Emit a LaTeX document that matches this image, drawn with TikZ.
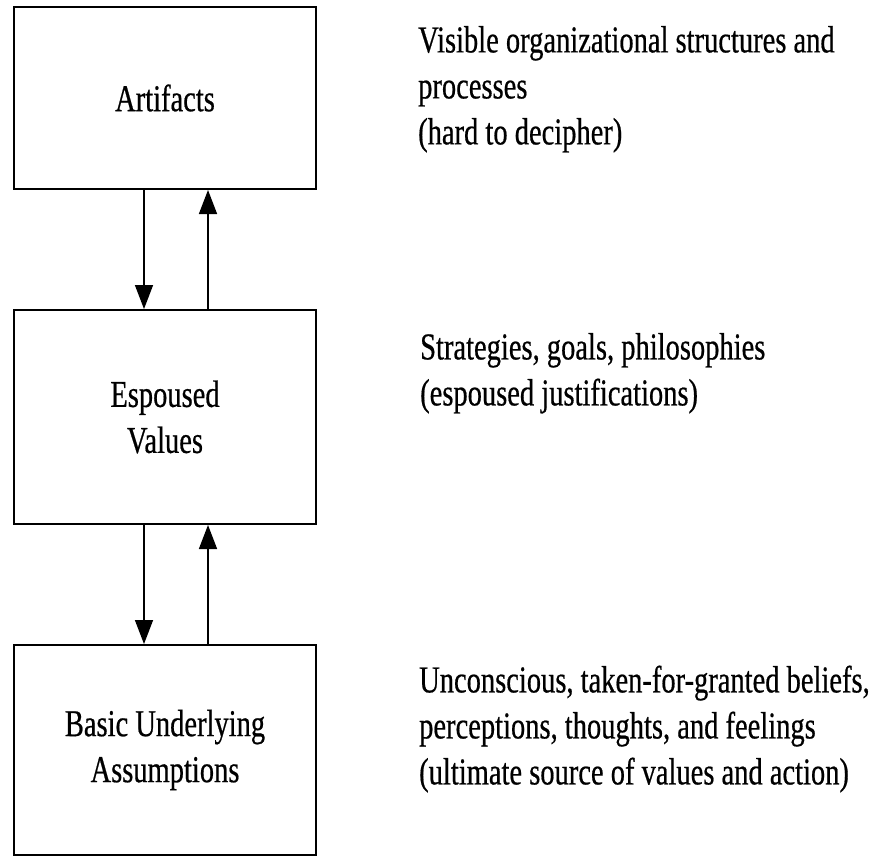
\documentclass[tikz,border=0pt]{standalone}
\usepackage{fontspec}
\setmainfont{Liberation Serif}
\newfontfamily\condserif[FakeStretch=0.75,FakeBold=0.5]{Liberation Serif}
\usetikzlibrary{arrows.meta}
\tikzset{
  layerbox/.style={draw=black, line width=2pt, rectangle, inner sep=0pt,
    minimum width=302pt, align=center, text=black,
    font=\condserif\fontsize{38}{46}\selectfont},
  desc/.style={anchor=north west, inner sep=0pt, align=left, text=black,
    font=\condserif\fontsize{38}{46}\selectfont},
  arr/.style={draw=black, line width=1.5pt, -{Triangle[width=18pt,length=24pt]}}
}
\begin{document}
\begin{tikzpicture}[x=1pt,y=-1pt]
\useasboundingbox[fill=white] (0,0) rectangle (873,857);
% boxes
\node[layerbox, minimum height=182pt] (A) at (165,98) {Artifacts};
\node[layerbox, minimum height=214pt] (E) at (165,417) {Espoused\\Values};
\node[layerbox, minimum height=210pt] (B) at (165,750) {Basic Underlying\\Assumptions};
% connectors
\draw[arr] ([xshift=-21pt]A.south) -- ([xshift=-21pt]E.north);
\draw[arr] ([xshift=43pt]E.north) -- ([xshift=43pt]A.south);
\draw[arr] ([xshift=-21pt]E.south) -- ([xshift=-21pt]B.north);
\draw[arr] ([xshift=43pt]B.north) -- ([xshift=43pt]E.south);
% descriptions
\node[desc] (dA) at (418,20) {\strut Visible organizational structures and\\processes\\(hard to decipher)};
\node[desc] (dE) at (420,327) {\strut Strategies, goals, philosophies\\(espoused justifications)};
\node[desc] (dB) at (419,660) {\strut Unconscious, taken-for-granted beliefs,\\perceptions, thoughts, and feelings\\(ultimate source of values and action)};
\end{tikzpicture}
\end{document}
